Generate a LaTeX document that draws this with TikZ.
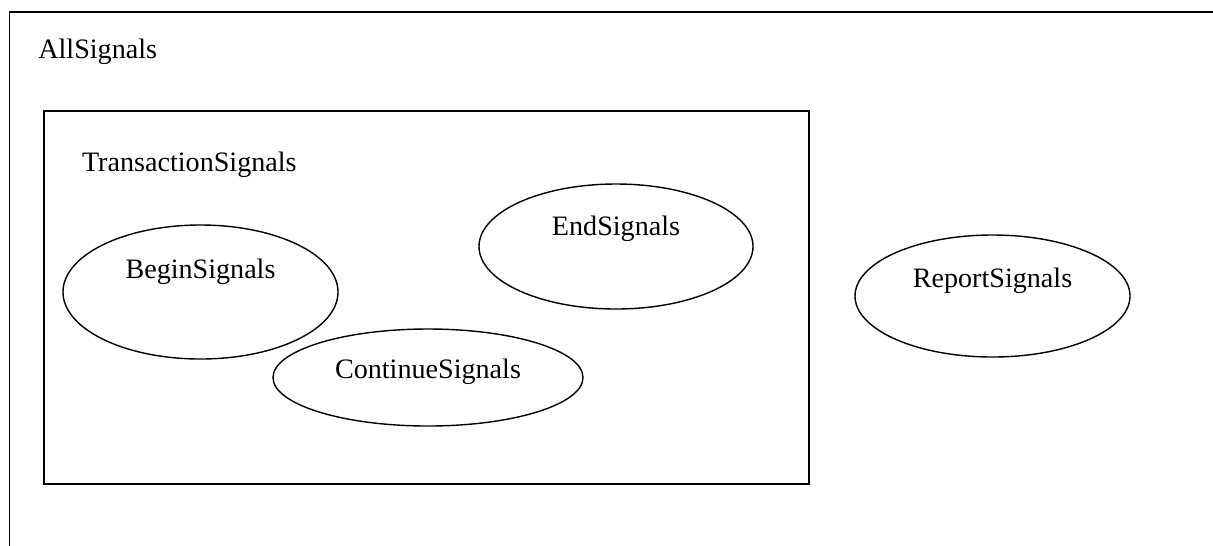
\documentclass[tikz,border=0pt]{standalone}
\usepackage{fontspec}
\setmainfont{Liberation Serif}
\usepackage{tikz}
\usetikzlibrary{shapes.geometric, positioning, calc}
\tikzstyle{sigset} = [ellipse, draw=black, line width=0.8pt, inner sep=0pt]
\tikzstyle{setbox} = [rectangle, draw=black, line width=1pt, inner sep=0pt, minimum width=15.29cm, minimum height=7.46cm]
\tikzstyle{setname} = [anchor=base, inner sep=0pt]

\begin{document}
\begin{tikzpicture}[font=\fontsize{16}{19}\selectfont]

\useasboundingbox (0,0) rectangle (24.26,-10.9);
\clip (0,0) rectangle (24.26,-10.9);

% outer set, cut off at the page edge
\coordinate (allbl) at (0.19,-11.2);
\coordinate (alltr) at (24.6,-0.24);
\draw[line width=1pt] (allbl) |- (alltr);
\node (all) [anchor=base west, inner sep=0pt] at (0.76,-1.16) {AllSignals};

\node (trans) [setbox] at (8.53,-5.944) {};
\node (transname) [anchor=base west, inner sep=0pt] at (1.634,-3.434) {TransactionSignals};

\node (begin) [sigset, minimum width=5.5cm, minimum height=2.68cm] at (4.01,-5.84) {};
\node (cont) [sigset, minimum width=6.2cm, minimum height=1.94cm] at (8.56,-7.55) {};
\node (end) [sigset, minimum width=5.48cm, minimum height=2.5cm] at (12.32,-4.93) {};
\node (report) [sigset, minimum width=5.5cm, minimum height=2.44cm] at (19.85,-5.92) {};

\node (begintxt) [setname] at ([yshift=0.28cm]begin.center) {BeginSignals};
\node (conttxt) [setname] at ([yshift=-0.016cm]cont.center) {ContinueSignals};
\node (endtxt) [setname] at ([yshift=0.23cm]end.center) {EndSignals};
\node (reporttxt) [setname] at ([yshift=0.174cm]report.center) {ReportSignals};

\end{tikzpicture}
\end{document}
